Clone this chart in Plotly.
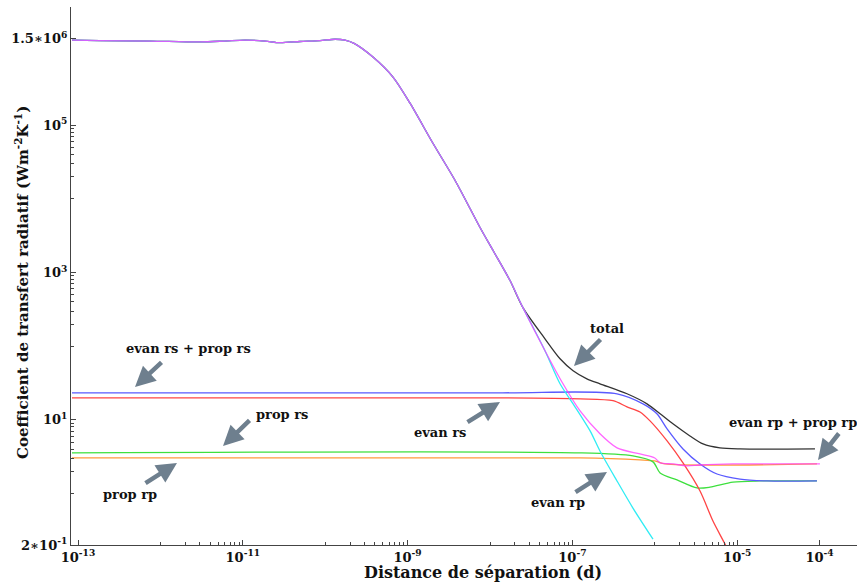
import plotly.graph_objects as go

# ---------------- data ----------------
# total (black)
d_total = [8.45e-14, 1.85e-13, 7.48e-13, 3.03e-12, 6.08e-12, 1.06e-11, 1.86e-11, 2.82e-11, 4.94e-11,
           8.65e-11, 1.32e-10, 1.74e-10, 2.24e-10, 3.80e-10, 6.65e-10, 1.07e-9, 2.03e-9, 3.76e-9,
           7.57e-9, 1.09e-8, 1.75e-8, 2.51e-8, 4.65e-8, 7.08e-8, 1.02e-7, 1.50e-7, 2.16e-7, 4.60e-7,
           8.04e-7, 1.16e-6, 1.66e-6, 2.67e-6, 3.85e-6, 6.18e-6, 1.08e-5, 8.79e-5]
h_total = [1.43e6, 1.41e6, 1.39e6, 1.35e6, 1.39e6, 1.43e6, 1.39e6, 1.32e6, 1.37e6,
           1.41e6, 1.47e6, 1.43e6, 1.29e6, 8.41e5, 4.50e5, 1.99e5, 5.69e4, 1.79e4,
           4.09e3, 1.99e3, 778, 334, 126, 67.6, 46.5, 36.1, 30.9, 22.6,
           16.5, 12.1, 8.83, 6.05, 4.71, 4.16, 4.03, 4.03]

# evan rp (cyan)
d_evan_rp = [8.45e-14, 1.85e-13, 7.48e-13, 3.03e-12, 6.08e-12, 1.06e-11, 1.86e-11, 2.82e-11, 4.94e-11,
             8.65e-11, 1.32e-10, 1.74e-10, 2.24e-10, 3.80e-10, 6.65e-10, 1.07e-9, 2.03e-9, 3.76e-9,
             7.57e-9, 1.09e-8, 1.75e-8, 2.51e-8, 4.65e-8, 7.08e-8, 1.02e-7, 1.64e-7, 2.16e-7, 3.48e-7,
             5.43e-7, 9.51e-7]
h_evan_rp = [1.43e6, 1.41e6, 1.39e6, 1.35e6, 1.39e6, 1.43e6, 1.39e6, 1.32e6, 1.37e6,
             1.41e6, 1.47e6, 1.43e6, 1.29e6, 8.41e5, 4.50e5, 1.99e5, 5.69e4, 1.79e4,
             4.09e3, 1.99e3, 778, 334, 86.9, 30.9, 16.5, 7.08, 3.78, 1.48,
             0.635, 0.240]

# evan rp + prop rp (magenta)
d_rp_sum = [8.45e-14, 1.85e-13, 7.48e-13, 3.03e-12, 6.08e-12, 1.06e-11, 1.86e-11, 2.82e-11, 4.94e-11,
            8.65e-11, 1.32e-10, 1.74e-10, 2.24e-10, 3.80e-10, 6.65e-10, 1.07e-9, 2.03e-9, 3.76e-9,
            7.57e-9, 1.09e-8, 1.75e-8, 2.51e-8, 4.65e-8, 7.69e-8, 1.24e-7, 2.16e-7, 3.48e-7, 6.61e-7,
            1.00e-6, 1.16e-6, 1.66e-6, 2.46e-6, 3.54e-6, 8.89e-6, 1.01e-4]
h_rp_sum = [1.43e6, 1.41e6, 1.39e6, 1.35e6, 1.39e6, 1.43e6, 1.39e6, 1.32e6, 1.37e6,
            1.41e6, 1.47e6, 1.43e6, 1.29e6, 8.41e5, 4.50e5, 1.99e5, 5.69e4, 1.79e4,
            4.09e3, 1.99e3, 778, 334, 86.9, 30.9, 13.2, 6.46, 4.16, 3.44,
            3.04, 2.60, 2.52, 2.37, 2.44, 2.52, 2.52]

# evan rs + prop rs (blue)
d_rs_sum = [8.45e-14, 1.32e-8, 3.48e-7, 7.19e-7, 1.06e-6, 1.41e-6, 2.20e-6, 3.54e-6, 5.69e-6,
            1.08e-5, 2.30e-5, 9.29e-5]
h_rs_sum = [23.3, 23.3, 22.6, 16.5, 12.1, 7.55, 4.03, 2.52, 1.84, 1.57, 1.48, 1.48]

# evan rs (red)
d_evan_rs = [8.45e-14, 1.32e-8, 1.24e-7, 3.11e-7, 4.60e-7, 6.61e-7, 8.75e-7, 1.41e-6, 2.20e-6,
             3.54e-6, 5.08e-6, 7.52e-6, 9.40e-6]
h_evan_rs = [19.9, 19.9, 19.3, 18.2, 15.0, 12.8, 9.69, 5.18, 2.60, 1.08, 0.423, 0.182, 0.103]

# prop rs (green)
d_prop_rs = [8.45e-14, 1.24e-7, 5.43e-7, 9.51e-7, 1.16e-6, 1.86e-6, 3.25e-6, 4.68e-6, 8.89e-6,
             1.89e-5, 9.29e-5]
h_prop_rs = [3.56, 3.56, 3.24, 2.69, 1.90, 1.53, 1.19, 1.22, 1.43, 1.48, 1.48]

# prop rp (orange)
d_prop_rp = [8.45e-14, 1.24e-7, 6.61e-7, 1.00e-6, 1.33e-6, 9.29e-5]
h_prop_rp = [3.04, 3.04, 2.86, 2.77, 2.52, 2.52]

# ticks
x_tick_vals = [1e-13, 1e-11, 1e-9, 1e-7, 1e-5, 1e-4]
x_tick_text = ["10<sup>-13</sup>", "10<sup>-11</sup>", "10<sup>-9</sup>", "10<sup>-7</sup>",
               "10<sup>-5</sup>", "10<sup>-4</sup>"]
y_tick_vals = [0.2, 10, 1e3, 1e5, 1.5e6]
y_tick_text = ["2\u221710<sup>-1</sup>", "10<sup>1</sup>", "10<sup>3</sup>", "10<sup>5</sup>",
               "1.5\u221710<sup>6</sup>"]
x_minor_vals = [k * 10.0 ** e for e in (-12, -10, -8, -6) for k in range(1, 10)]
y_minor_vals = [k * 10.0 ** e for e in (0, 2, 4) for k in range(1, 10)]

# ---------------- figure ----------------
fig = go.Figure()
series = [
    (d_prop_rp, h_prop_rp, "#ff9a3c", 1.0, "prop rp"),
    (d_prop_rs, h_prop_rs, "#3ee03e", 1.0, "prop rs"),
    (d_evan_rs, h_evan_rs, "#ff4444", 1.0, "evan rs"),
    (d_rs_sum, h_rs_sum, "#5a5aff", 1.0, "evan rs + prop rs"),
    (d_total, h_total, "#333333", 1.0, "total"),
    (d_evan_rp, h_evan_rp, "#30ecf4", 1.0, "evan rp"),
    (d_rp_sum, h_rp_sum, "#ff3cff", 0.78, "evan rp + prop rp"),
]
for xs, ys, col, op, name in series:
    fig.add_trace(go.Scatter(x=xs, y=ys, mode="lines", name=name, opacity=op,
                             line=dict(color=col, width=1.3, shape="spline", smoothing=0.8)))

W, H = 857, 588
L, R, T, B = 71, 0, 7, 43
pw, ph = W - L - R, H - T - B


def px(xpix):
    return (xpix - L) / pw


def py(ypix):
    return (H - B - ypix) / ph


font_family = "DejaVu Serif"
ann = []
labels = [
    ("total", 607, 328),
    ("evan rs + prop rs", 188, 348),
    ("prop rs", 282, 414),
    ("evan rs", 440, 432),
    ("prop rp", 130, 494),
    ("evan rp", 558, 502),
    ("evan rp + prop rp", 793, 422),
]
for t, xx, yy in labels:
    ann.append(dict(text=t, x=px(xx), y=py(yy), xref="paper", yref="paper", showarrow=False,
                    xanchor="center", yanchor="middle",
                    font=dict(family=font_family, size=13, color="#111", weight="bold")))

arrows = [  # tip x, tip y, tail offset ax, ay (pixels)
    (574, 366, 28, -28),
    (135, 387, 28, -26),
    (223, 446, 28, -27),
    (500, 402, -34, 21),
    (177, 463, -33, 21),
    (607, 472, -33, 21),
    (818, 460, 22, -28),
]
for tx, ty, ax, ay in arrows:
    ann.append(dict(text="", x=px(tx), y=py(ty), xref="paper", yref="paper", ax=ax, ay=ay,
                    showarrow=True, arrowhead=2, arrowsize=0.9, arrowwidth=4.5,
                    arrowcolor="#6e7f8e", standoff=0, startstandoff=0))

ann.append(dict(text="Distance de séparation (d)", x=px(483), y=py(572), xref="paper", yref="paper",
                showarrow=False, xanchor="center", yanchor="middle",
                font=dict(family=font_family, size=16, color="#111", weight="bold")))
ann.append(dict(text="Coefficient de transfert radiatif (Wm<sup>-2</sup>K<sup>-1</sup>)",
                x=px(22), y=py(283), xref="paper", yref="paper", textangle=-90,
                showarrow=False, xanchor="center", yanchor="middle",
                font=dict(family=font_family, size=15, color="#111", weight="bold")))

axis_common = dict(showgrid=False, zeroline=False, showline=True, linecolor="#444", linewidth=1.2,
                   ticks="inside", ticklen=5, tickcolor="#444", tickwidth=1,
                   tickfont=dict(family=font_family, size=13, color="#111", weight="bold"),
                   tickmode="array")

fig.update_layout(
    width=W, height=H,
    margin=dict(l=L, r=R, t=T, b=B, autoexpand=False),
    paper_bgcolor="white", plot_bgcolor="white",
    showlegend=False,
    xaxis=dict(type="log", range=[-13.085, -3.546], tickvals=x_tick_vals, ticktext=x_tick_text,
               minor=dict(tickvals=x_minor_vals, ticks="inside", ticklen=3, tickcolor="#444"),
               **axis_common),
    yaxis=dict(type="log", range=[-0.699, 6.605], tickvals=y_tick_vals, ticktext=y_tick_text,
               minor=dict(tickvals=y_minor_vals, ticks="inside", ticklen=3, tickcolor="#444"),
               **axis_common),
    annotations=ann,
)

fig.write_html("out.html", config={"displayModeBar": False},
               post_script="document.body.style.margin='0px';document.body.style.overflow='hidden';")
